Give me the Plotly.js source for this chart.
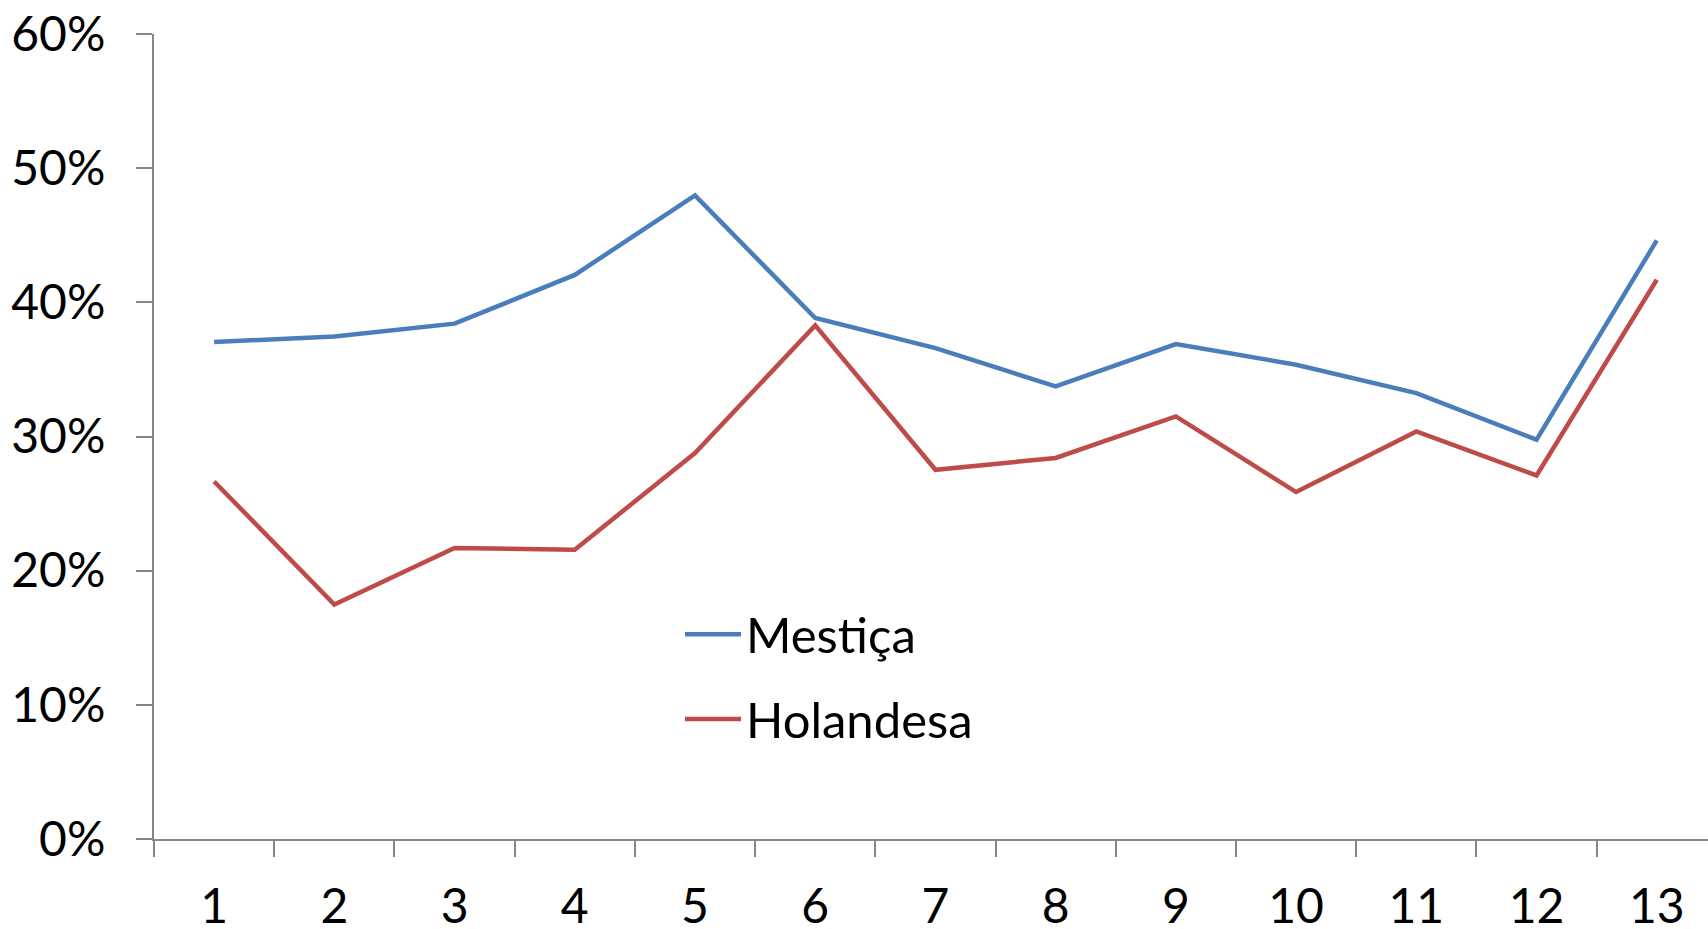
<!DOCTYPE html>
<html>
<head>
<meta charset="utf-8">
<script src="https://cdn.plot.ly/plotly-3.0.1.min.js"></script>
<style>
html,body{margin:0;padding:0;background:#fff;}
#chart{width:1708px;height:929px;}
</style>
</head>
<body>
<div id="chart"></div>
<script>
const categories = ["1","2","3","4","5","6","7","8","9","10","11","12","13"];
const mestica = [0.3704,0.3746,0.3841,0.4204,0.4797,0.3883,0.3659,0.3373,0.3689,0.3535,0.3324,0.2976,0.4462];
const holandesa = [0.2665,0.1748,0.2169,0.2156,0.2877,0.3828,0.2752,0.2840,0.3150,0.2586,0.3038,0.2710,0.4168];
const seriesNames = ["Mestiça","Holandesa"];
const yTickVals = [0,0.1,0.2,0.3,0.4,0.5,0.6];

const FONT = "Lato, 'Open Sans', sans-serif";
const traces = [
  {x: categories, y: mestica, name: seriesNames[0], type: "scatter", mode: "lines",
   line: {color: "#4A7EBB", width: 4.5}, legendgroup: "a"},
  {x: categories, y: holandesa, name: seriesNames[1], type: "scatter", mode: "lines",
   line: {color: "#BE4B48", width: 4.5}, legendgroup: "b"}
];
const layout = {
  width: 1708, height: 929,
  margin: {l: 154, r: 0, t: 34, b: 90, pad: 0},
  paper_bgcolor: "#fff", plot_bgcolor: "#fff",
  font: {family: FONT, size: 48, color: "#000"},
  showlegend: true,
  legend: {x: (680-154)/1554, y: 0.302, xanchor: "left", yanchor: "top",
           bgcolor: "rgba(0,0,0,0)", font: {family: FONT, size: 49, color: "#000"},
           tracegroupgap: 18, itemwidth: 56},
  xaxis: {type: "category", range: [-0.5, 12.426], tickson: "boundaries",
          ticks: "outside", ticklen: 16, tickwidth: 2, tickcolor: "#868686",
          showline: true, linecolor: "#868686", linewidth: 2,
          showgrid: false, zeroline: false, ticklabelstandoff: 24,
          tickfont: {family: FONT, size: 48, color: "#000"}},
  yaxis: {range: [0, 0.6], tickmode: "array", tickvals: yTickVals, tickformat: ".0%",
          ticks: "outside", ticklen: 16, tickwidth: 2, tickcolor: "#868686",
          showline: true, linecolor: "#868686", linewidth: 2,
          showgrid: false, zeroline: false, ticklabelstandoff: 21,
          tickfont: {family: FONT, size: 48, color: "#000"}}
};
Plotly.newPlot("chart", traces, layout, {displayModeBar: false, staticPlot: true});
</script>
</body>
</html>
